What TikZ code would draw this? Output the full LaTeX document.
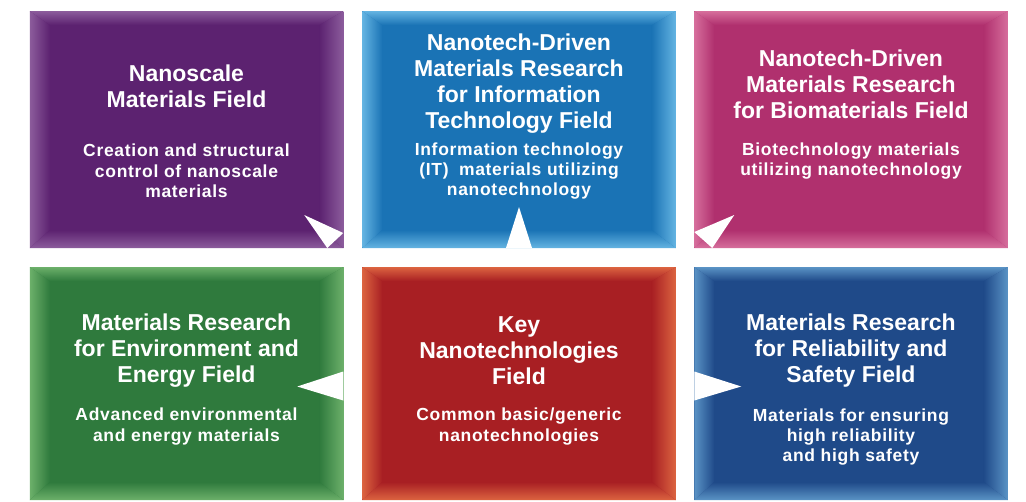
\documentclass[tikz,border=0pt]{standalone}
\usepackage{fontspec}
\setmainfont{Liberation Sans}
\newfontfamily\subfont[LetterSpace=4]{Liberation Sans}
\usetikzlibrary{positioning,calc}
\definecolor{nanopurple}{RGB}{92,34,112}
\definecolor{nanopurplelt}{RGB}{140,92,156}
\definecolor{itblue}{RGB}{26,115,181}
\definecolor{itbluelt}{RGB}{100,180,226}
\definecolor{biopink}{RGB}{176,48,110}
\definecolor{biopinklt}{RGB}{214,110,156}
\definecolor{envgreen}{RGB}{47,122,61}
\definecolor{envgreenlt}{RGB}{108,176,106}
\definecolor{keyred}{RGB}{168,31,35}
\definecolor{keyredlt}{RGB}{220,100,64}
\definecolor{safenavy}{RGB}{31,74,137}
\definecolor{safenavylt}{RGB}{90,147,197}

\newcommand{\bevelbox}[3]{%
  \shade[left color=#3, right color=#2] (#1.north west) -- ([shift={(20pt,-14pt)}]#1.north west) -- ([shift={(20pt,18pt)}]#1.south west) -- (#1.south west) -- cycle;
  \shade[left color=#2, right color=#3] (#1.north east) -- ([shift={(-24pt,-14pt)}]#1.north east) -- ([shift={(-24pt,18pt)}]#1.south east) -- (#1.south east) -- cycle;
  \shade[top color=#3, bottom color=#2] (#1.north west) -- ([shift={(20pt,-14pt)}]#1.north west) -- ([shift={(-24pt,-14pt)}]#1.north east) -- (#1.north east) -- cycle;
  \shade[top color=#2, bottom color=#3] (#1.south west) -- ([shift={(20pt,18pt)}]#1.south west) -- ([shift={(-24pt,18pt)}]#1.south east) -- (#1.south east) -- cycle;
}

\begin{document}
\begin{tikzpicture}[x=1pt, y=-1pt,
    fieldbox/.style={minimum width=313.5pt, inner sep=0pt, outer sep=0pt},
    toprow/.style={fieldbox, minimum height=237pt},
    botrow/.style={fieldbox, minimum height=233pt},
    titletext/.style={text=white, align=center, inner sep=0pt, font=\fontsize{23}{26}\selectfont\bfseries},
    subtext/.style={text=white, align=center, inner sep=0pt, font=\subfont\fontsize{17.5}{20.4}\selectfont\bfseries}]
    \fill[white] (0,0) rectangle (1026,501);
    \useasboundingbox (0,0) rectangle (1026,501);

    \node[toprow, fill=nanopurple] (nanobox) at (186.5,129.5) {};
    \node[toprow, fill=itblue] (itbox) at (519,129.5) {};
    \node[toprow, fill=biopink] (biobox) at (851,129.5) {};
    \node[botrow, fill=envgreen] (envbox) at (186.5,383.5) {};
    \node[botrow, fill=keyred] (keybox) at (519,383.5) {};
    \node[botrow, fill=safenavy] (safebox) at (851,383.5) {};

    \bevelbox{nanobox}{nanopurple}{nanopurplelt}
    \bevelbox{itbox}{itblue}{itbluelt}
    \bevelbox{biobox}{biopink}{biopinklt}
    \bevelbox{envbox}{envgreen}{envgreenlt}
    \bevelbox{keybox}{keyred}{keyredlt}
    \bevelbox{safebox}{safenavy}{safenavylt}

    \fill[white] ([shift={(-39pt,33pt)}]nanobox.south east) -- ([shift={(0pt,15pt)}]nanobox.south east) -- ([shift={(-16pt,0pt)}]nanobox.south east) -- cycle;
    \fill[white] ([shift={(0pt,41pt)}]itbox.south) -- ([shift={(13pt,0pt)}]itbox.south) -- ([shift={(-13pt,0pt)}]itbox.south) -- cycle;
    \fill[white] ([shift={(40pt,33pt)}]biobox.south west) -- ([shift={(0pt,16pt)}]biobox.south west) -- ([shift={(18pt,0pt)}]biobox.south west) -- cycle;
    \fill[white] ([shift={(-46pt,-3pt)}]envbox.east) -- ([shift={(0pt,12pt)}]envbox.east) -- ([shift={(0pt,-17pt)}]envbox.east) -- cycle;
    \fill[white] ([shift={(47pt,-3pt)}]safebox.west) -- ([shift={(0pt,12pt)}]safebox.west) -- ([shift={(0pt,-17pt)}]safebox.west) -- cycle;

    \node[titletext] (nanotitle) at (186.5,86) {Nanoscale\\Materials Field};
    \node[subtext] (nanosub) at (186.5,171) {Creation and structural\\control of nanoscale\\materials};
    \node[titletext] (ittitle) at (519,83.5) {Nanotech-Driven\\Materials Research\\for Information\\Technology Field};
    \node[subtext] (itsub) at (519,171) {Information technology\\(IT)\; materials utilizing\\nanotechnology};
    \node[titletext] (biotitle) at (851,84) {Nanotech-Driven\\Materials Research\\for Biomaterials Field};
    \node[subtext] (biosub) at (851,161) {Biotechnology materials\\utilizing nanotechnology};
    \node[titletext] (envtitle) at (186.5,351) {Materials Research\\for Environment and\\Energy Field};
    \node[subtext] (envsub) at (186.5,426.5) {Advanced environmental\\and energy materials};
    \node[titletext] (keytitle) at (519,351) {Key\\Nanotechnologies\\Field};
    \node[subtext] (keysub) at (519,426.5) {Common basic/generic\\nanotechnologies};
    \node[titletext] (safetitle) at (851,351) {Materials Research\\for Reliability and\\Safety Field};
    \node[subtext] (safesub) at (851,437) {Materials for ensuring\\high reliability\\and high safety};
\end{tikzpicture}
\end{document}
